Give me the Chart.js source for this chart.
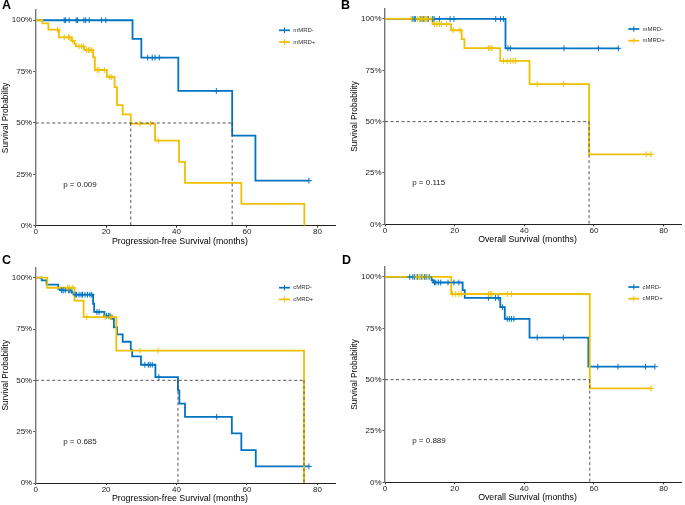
<!DOCTYPE html>
<html>
<head>
<meta charset="utf-8">
<script src="https://cdn.jsdelivr.net/npm/chart.js@4"></script>
<style>
    body { margin: 0; background: #fff; width: 685px; height: 505px; overflow: hidden; position: relative; font-family: "Liberation Sans", Arial, sans-serif; }
    .panel { position: absolute; }
    .panel canvas { display: block; }
    .tag { position: absolute; font-weight: bold; font-size: 12.5px; line-height: 14px; color: #000; }
</style>
</head>
<body>
<div class="panel" style="left:0;top:0"><canvas id="chartA" width="340" height="250"></canvas></div>
<div class="panel" style="left:349px;top:0"><canvas id="chartB" width="337" height="250"></canvas></div>
<div class="panel" style="left:0;top:250px"><canvas id="chartC" width="340" height="255"></canvas></div>
<div class="panel" style="left:349px;top:250px"><canvas id="chartD" width="337" height="255"></canvas></div>
<div class="tag" style="left:2px;top:-2px">A</div>
<div class="tag" style="left:341px;top:-2px">B</div>
<div class="tag" style="left:2px;top:253px">C</div>
<div class="tag" style="left:342px;top:253px">D</div>
<script>
// axis ticks
const xTicks = [0, 20, 40, 60, 80];
const yTicks = [0, 0.25, 0.5, 0.75, 1];

// A: PFS by mMRD
const aNegTime = [27.5, 30.0, 40.5, 55.8, 62.4];
const aNegSurv = [0.909, 0.818, 0.656, 0.438, 0.219];
const aNegCens = [8.1, 8.5, 9.5, 11.5, 11.9, 13.7, 14.2, 15.2, 18.7, 19.9, 31.8, 33.1, 33.9, 35.1, 51.3, 77.6];
const aPosTime = [1.9, 3.6, 6.6, 10.2, 11.0, 11.4, 13.8, 16.3, 16.8, 20.2, 22.4, 23.1, 24.7, 27.0, 33.9, 40.7, 42.4, 58.4, 76.3];
const aPosSurv = [0.985, 0.954, 0.917, 0.90, 0.885, 0.873, 0.855, 0.82, 0.758, 0.724, 0.675, 0.587, 0.542, 0.497, 0.414, 0.311, 0.208, 0.106, 0];
const aPosCens = [6.2, 8.1, 9.3, 9.7, 10.5, 12.3, 13.0, 13.5, 14.5, 15.0, 15.4, 15.9, 17.5, 18.0, 19.5, 21.0, 21.6, 29.6, 32.6, 34.8];
const aMedians = [27.0, 55.8];

// B: OS by mMRD
const bNegTime = [34.6];
const bNegSurv = [0.857];
const bNegCens = [8.0, 8.4, 8.8, 10.3, 10.7, 11.0, 11.4, 12.1, 12.5, 13.7, 14.1, 15.6, 18.7, 19.8, 31.8, 33.2, 34.0, 35.3, 36.0, 51.4, 61.3, 67.0];
const bPosTime = [13.7, 19.0, 22.0, 22.8, 33.1, 41.5, 58.6];
const bPosSurv = [0.975, 0.945, 0.902, 0.858, 0.796, 0.683, 0.341];
const bPosCens = [7.5, 9.4, 9.9, 10.4, 10.8, 11.3, 11.8, 12.3, 13.2, 14.2, 14.9, 15.6, 16.2, 17.7, 19.6, 21.5, 29.7, 30.2, 30.7, 34.0, 35.1, 36.0, 36.8, 37.5, 43.7, 51.2, 75.0, 76.4];
const bMedians = [58.6];

// C: PFS by cMRD
const cNegTime = [1.7, 3.1, 6.4, 7.0, 10.2, 11.0, 16.3, 16.6, 19.5, 21.4, 22.2, 23.1, 24.7, 27.0, 27.4, 29.9, 34.0, 40.4, 40.8, 42.4, 55.7, 58.4, 62.5];
const cNegSurv = [0.987, 0.966, 0.945, 0.938, 0.927, 0.917, 0.873, 0.833, 0.815, 0.800, 0.758, 0.724, 0.688, 0.648, 0.617, 0.576, 0.516, 0.451, 0.387, 0.322, 0.242, 0.160, 0.081];
const cNegCens = [7.4, 7.8, 8.4, 9.3, 9.7, 11.2, 11.6, 12.3, 12.9, 13.3, 14.0, 14.7, 15.4, 15.9, 17.4, 18.0, 20.1, 20.7, 21.1, 31.0, 32.0, 32.5, 33.1, 35.0, 51.4, 77.6];
const cPosTime = [3.3, 11.0, 13.6, 22.9, 76.2];
const cPosSurv = [0.951, 0.888, 0.808, 0.645, 0];
const cPosCens = [9.1, 9.5, 10.4, 14.5, 19.7, 21.1, 21.6, 29.6, 34.8];
const cMedians = [40.4, 76.2];

// D: OS by cMRD
const dNegTime = [13.4, 13.9, 22.3, 22.9, 33.1, 34.4, 41.5, 58.4];
const dNegSurv = [0.984, 0.973, 0.936, 0.898, 0.853, 0.796, 0.705, 0.563];
const dNegCens = [7.1, 8.0, 8.5, 9.4, 10.4, 11.3, 11.8, 12.7, 14.2, 14.6, 15.3, 16.0, 18.1, 19.8, 21.2, 29.7, 31.7, 32.5, 33.7, 35.1, 35.7, 36.3, 37.0, 43.7, 51.2, 61.1, 66.9, 74.8, 77.5];
const dPosTime = [19.0, 58.8];
const dPosSurv = [0.917, 0.457];
const dPosCens = [9.0, 9.9, 10.8, 12.3, 19.4, 20.3, 21.2, 21.9, 29.7, 30.2, 30.7, 35.1, 36.3, 76.4];
const dMedians = [58.8];

const blue = '#0073C2';
const yellow = '#EFC000';
const fontFamily = '"Liberation Sans", Arial, sans-serif';

Chart.defaults.font.family = fontFamily;
Chart.defaults.animation = false;

function survAt(times, surv, t) {
    let s = 1;
    for (let i = 0; i < times.length; i++) {
        if (times[i] <= t) s = surv[i];
    }
    return s;
}

function curvePoints(times, surv, cens) {
    const pts = [{ x: 0, y: 1 }];
    times.forEach((t, i) => pts.push({ x: t, y: surv[i] }));
    const lastC = Math.max(...cens);
    if (lastC > times[times.length - 1]) {
        pts.push({ x: lastC, y: surv[surv.length - 1] });
    }
    return pts;
}

function censorPoints(times, surv, cens) {
    return cens.map(t => ({ x: t, y: survAt(times, surv, t) }));
}

const kmExtras = {
    id: 'kmExtras',
    afterDraw(chart, args, o) {
        const ctx = chart.ctx;
        const area = chart.chartArea;
        const xs = chart.scales.x;
        const ys = chart.scales.y;
        ctx.save();
        ctx.textBaseline = 'middle';

        // x axis title (ggplot centres it a little left of the axis end)
        ctx.font = '8.8px ' + fontFamily;
        ctx.fillStyle = '#000';
        ctx.textAlign = 'center';
        ctx.fillText(o.xTitle, (area.left + area.right) / 2 - 5.5, area.bottom + 15.5);

        ctx.font = '8px ' + fontFamily;
        ctx.fillStyle = '#222';
        ctx.textAlign = 'left';
        ctx.fillText(o.pval, xs.getPixelForValue(7.8), ys.getPixelForValue(0.2));

        // legend
        ctx.font = '6px ' + fontFamily;
        o.labels.forEach((lab, i) => {
            const y = area.top + 20.3 + i * 11.7;
            const x1 = area.left + 243.3;
            const x2 = area.left + 254.3;
            const xm = (x1 + x2) / 2;
            ctx.strokeStyle = o.colors[i];
            ctx.lineWidth = 1.7;
            ctx.beginPath();
            ctx.moveTo(x1, y);
            ctx.lineTo(x2, y);
            ctx.stroke();
            ctx.lineWidth = 1;
            ctx.beginPath();
            ctx.moveTo(xm, y - 2.8);
            ctx.lineTo(xm, y + 2.8);
            ctx.stroke();
            ctx.fillStyle = '#333';
            ctx.fillText(lab, area.left + 257.5, y);
        });
        ctx.restore();
    }
};

function makeKM(id, d) {
    const ctx = document.getElementById(id).getContext('2d');

    const datasets = [];
    const medMax = Math.max(...d.medians);
    datasets.push({
        data: [{ x: 0, y: 0.5 }, { x: medMax, y: 0.5 }],
        borderColor: '#444', borderWidth: 0.9, borderDash: [3, 2.5], pointRadius: 0
    });
    d.medians.forEach(m => {
        datasets.push({
            data: [{ x: m, y: 0.5 }, { x: m, y: 0 }],
            borderColor: '#444', borderWidth: 0.9, borderDash: [3, 2.5], pointRadius: 0
        });
    });
    datasets.push({
        data: censorPoints(d.posTime, d.posSurv, d.posCens),
        showLine: false, pointStyle: 'cross', pointRadius: 2.9,
        borderColor: yellow, pointBorderWidth: 1
    });
    datasets.push({
        data: censorPoints(d.negTime, d.negSurv, d.negCens),
        showLine: false, pointStyle: 'cross', pointRadius: 2.9,
        borderColor: blue, pointBorderWidth: 1
    });
    datasets.push({
        data: curvePoints(d.posTime, d.posSurv, d.posCens),
        stepped: true, borderColor: yellow, borderWidth: 1.8, pointRadius: 0, fill: false
    });
    datasets.push({
        data: curvePoints(d.negTime, d.negSurv, d.negCens),
        stepped: true, borderColor: blue, borderWidth: 1.8, pointRadius: 0, fill: false
    });

    return new Chart(ctx, {
        type: 'line',
        data: { datasets: datasets },
        plugins: [kmExtras],
        options: {
            responsive: false,
            devicePixelRatio: 1,
            events: [],
            layout: { padding: { top: d.padTop, right: d.padRight, left: 0, bottom: 0 } },
            plugins: {
                legend: { display: false },
                tooltip: { enabled: false },
                kmExtras: { pval: d.pval, labels: d.labels, colors: [blue, yellow], xTitle: d.xTitle }
            },
            scales: {
                x: {
                    type: 'linear', min: 0, max: 85,
                    afterFit: s => { s.height = d.xHeight; },
                    afterBuildTicks: s => { s.ticks = xTicks.map(v => ({ value: v })); },
                    border: { display: true, color: '#222', width: 1 },
                    grid: { display: true, drawOnChartArea: false, drawTicks: true, tickLength: 2, color: '#333' },
                    ticks: { color: '#222', font: { size: 8 }, padding: -0.5, maxRotation: 0 },
                    title: { display: false }
                },
                y: {
                    type: 'linear', min: 0, max: 1.05,
                    afterFit: s => { s.width = d.yWidth; },
                    afterBuildTicks: s => { s.ticks = yTicks.map(v => ({ value: v })); },
                    border: { display: true, color: '#777', width: 1.4 },
                    grid: { display: true, drawOnChartArea: false, drawTicks: true, tickLength: 2.5, color: '#555' },
                    ticks: { color: '#222', font: { size: 8 }, padding: 1, callback: v => Math.round(v * 100) + '%' },
                    title: { display: true, text: 'Survival Probability', color: '#000', font: { size: 8.3 }, padding: { top: 1, bottom: 0 } }
                }
            }
        }
    });
}

makeKM('chartA', {
    negTime: aNegTime, negSurv: aNegSurv, negCens: aNegCens,
    posTime: aPosTime, posSurv: aPosSurv, posCens: aPosCens,
    medians: aMedians, labels: ['mMRD-', 'mMRD+'], pval: 'p = 0.009',
    xTitle: 'Progression-free Survival (months)',
    padTop: 10, padRight: 4.7, yWidth: 35.7, xHeight: 24.3
});
makeKM('chartB', {
    negTime: bNegTime, negSurv: bNegSurv, negCens: bNegCens,
    posTime: bPosTime, posSurv: bPosSurv, posCens: bPosCens,
    medians: bMedians, labels: ['mMRD-', 'mMRD+'], pval: 'p = 0.115',
    xTitle: 'Overall Survival (months)',
    padTop: 8.7, padRight: 0.7, yWidth: 36, xHeight: 25.7
});
makeKM('chartC', {
    negTime: cNegTime, negSurv: cNegSurv, negCens: cNegCens,
    posTime: cPosTime, posSurv: cPosSurv, posCens: cPosCens,
    medians: cMedians, labels: ['cMRD-', 'cMRD+'], pval: 'p = 0.685',
    xTitle: 'Progression-free Survival (months)',
    padTop: 17.4, padRight: 4.7, yWidth: 35.7, xHeight: 22
});
makeKM('chartD', {
    negTime: dNegTime, negSurv: dNegSurv, negCens: dNegCens,
    posTime: dPosTime, posSurv: dPosSurv, posCens: dPosCens,
    medians: dMedians, labels: ['cMRD-', 'cMRD+'], pval: 'p = 0.889',
    xTitle: 'Overall Survival (months)',
    padTop: 16.7, padRight: 0.7, yWidth: 36, xHeight: 22.7
});
</script>
</body>
</html>
